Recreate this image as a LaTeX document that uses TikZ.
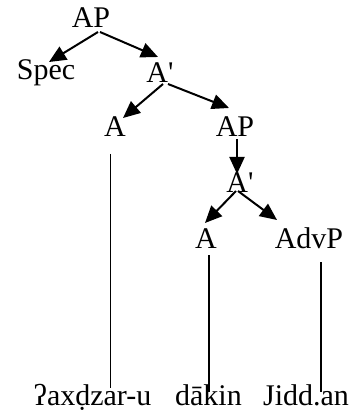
\documentclass[tikz,border=0pt]{standalone}
\usepackage{fontspec}
\newfontfamily\tf{Liberation Serif}
\usetikzlibrary{arrows.meta}
\begin{document}
\begin{tikzpicture}[x=1pt,y=-1pt,
  lbl/.style={font=\tf\fontsize{30}{32}\selectfont, inner sep=0pt, anchor=base},
  word/.style={font=\tf\fontsize{30}{32}\selectfont, inner sep=0pt, anchor=base},
  arr/.style={line width=2pt, -{Triangle[length=17pt,width=15pt]}},
  stem/.style={line width=2pt},
  thinstem/.style={line width=1pt}]
\useasboundingbox (0,0) rectangle (353,419);
% nodes
\node[lbl] (ap1) at (91,28) {AP};
\node[lbl] (spec) at (46,80) {Spec};
\node[lbl] (ab1) at (160,83) {A'};
\node[lbl] (aL) at (115,137) {A};
\node[lbl] (ap2) at (235,137) {AP};
\node[lbl] (ab2) at (240,193) {A'};
\node[lbl] (aM) at (206,248) {A};
\node[lbl] (advp) at (309,248) {AdvP};
\node[word] (w1) at (92.5,405) {ʔaxḍzar-u};
\node[word] (w2) at (208.5,405) {dākin};
\node[word] (w3) at (306,405) {Jidd.an};
% connector endpoints
\coordinate (ap1a) at (98,32);   \coordinate (spect) at (49,62);
\coordinate (ap1b) at (100,32);  \coordinate (ab1t) at (158,57);
\coordinate (ab1a) at (163,84);  \coordinate (aLt) at (123,118);
\coordinate (ab1b) at (168,84);  \coordinate (ap2t) at (229,108);
\coordinate (ap2s) at (237,139); \coordinate (ab2t) at (237,174);
\coordinate (ab2a) at (236,191); \coordinate (aMt) at (205,223);
\coordinate (ab2b) at (238,191); \coordinate (advpt) at (277,220);
\coordinate (aLs) at (110,154);  \coordinate (w1t) at (110,388);
\coordinate (aMs) at (209,255);  \coordinate (w2t) at (209,392);
\coordinate (advps) at (321,262); \coordinate (w3t) at (321,392);
% arrows
\draw[arr] (ap1a) -- (spect);
\draw[arr] (ap1b) -- (ab1t);
\draw[arr] (ab1a) -- (aLt);
\draw[arr] (ab1b) -- (ap2t);
\draw[arr] (ap2s) -- (ab2t);
\draw[arr] (ab2a) -- (aMt);
\draw[arr] (ab2b) -- (advpt);
% stems
\draw[thinstem] (aLs) -- (w1t);
\draw[stem] (aMs) -- (w2t);
\draw[stem] (advps) -- (w3t);
\end{tikzpicture}
\end{document}
